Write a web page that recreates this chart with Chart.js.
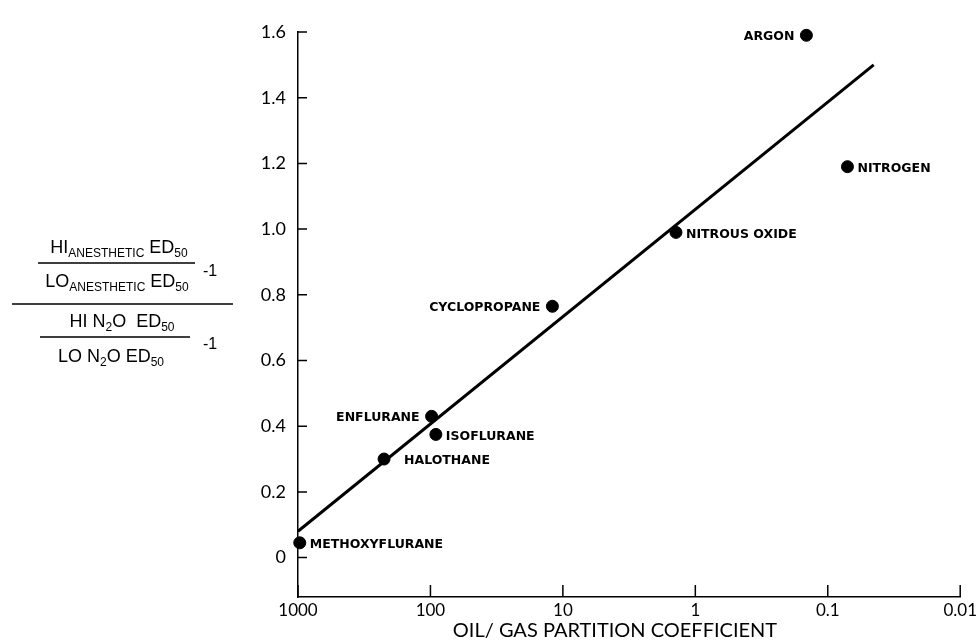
<!DOCTYPE html>
<html>
<head>
<meta charset="utf-8">
<script src="https://cdn.jsdelivr.net/npm/chart.js@4"></script>
<style>
  html, body { margin: 0; padding: 0; background: #fff; }
  #wrap { width: 980px; height: 644px; }
</style>
</head>
<body>
<div id="wrap"><canvas id="myChart" width="980" height="644"></canvas></div>
<script>
// values
const agents = ['ARGON', 'NITROGEN', 'NITROUS OXIDE', 'CYCLOPROPANE', 'ENFLURANE', 'ISOFLURANE', 'HALOTHANE', 'METHOXYFLURANE'];
const oilGas = [0.145, 0.071, 1.4, 12, 98, 91, 224, 970];
const ratio = [1.59, 1.19, 0.99, 0.765, 0.43, 0.375, 0.30, 0.045];

const fitX = [1000, 0.045];
const fitY = [0.08, 1.5];

const xTicks = [1000, 100, 10, 1, 0.1, 0.01];
const xTickLabels = ['1000', '100', '10', '1', '0.1', '0.01'];
const yTicks = [0, 0.2, 0.4, 0.6, 0.8, 1.0, 1.2, 1.4, 1.6];
const yTickLabels = ['0', '0.2', '0.4', '0.6', '0.8', '1.0', '1.2', '1.4', '1.6'];

const xTitle = 'OIL/ GAS PARTITION COEFFICIENT';

// which side of the dot the name goes
const leftSide = ['ARGON', 'CYCLOPROPANE', 'ENFLURANE'];

const points = [];
agents.forEach(function (name, i) {
    points.push({ x: oilGas[i], y: ratio[i] });
});

const fitLine = [];
fitX.forEach(function (x, i) {
    fitLine.push({ x: x, y: fitY[i] });
});

const labelsPlugin = {
    id: 'labelsPlugin',
    afterDatasetsDraw(chart) {
        const ctx = chart.ctx;
        const meta = chart.getDatasetMeta(1);
        ctx.save();
        ctx.fillStyle = '#000';
        ctx.font = 'bold 12.5px "DejaVu Sans"';
        ctx.textBaseline = 'middle';
        meta.data.forEach(function (pt, i) {
            const name = agents[i];
            if (leftSide.indexOf(name) >= 0) {
                ctx.textAlign = 'right';
                ctx.fillText(name, pt.x - 12, pt.y + 1);
            } else {
                ctx.textAlign = 'left';
                ctx.fillText(name, pt.x + (name === 'HALOTHANE' ? 20 : 10), pt.y + 2);
            }
        });

        // inward tick marks
        const xs = chart.scales.x, ys = chart.scales.y;
        ctx.strokeStyle = '#000';
        ctx.lineWidth = 1.5;
        ctx.beginPath();
        yTicks.forEach(function (v) {
            const py = ys.getPixelForValue(v);
            ctx.moveTo(xs.left, py);
            ctx.lineTo(xs.left + 9, py);
        });
        xTicks.forEach(function (v) {
            const px = xs.getPixelForValue(v);
            ctx.moveTo(px, ys.bottom);
            ctx.lineTo(px, ys.bottom - 12);
        });
        ctx.stroke();
        ctx.restore();
    }
};

function drawParts(ctx, parts, cx, y) {
    let w = 0;
    parts.forEach(function (p) {
        ctx.font = p[1] ? '12px "Liberation Sans"' : '18px "Liberation Sans"';
        w += ctx.measureText(p[0]).width;
    });
    let x = cx - w / 2;
    parts.forEach(function (p) {
        ctx.font = p[1] ? '12px "Liberation Sans"' : '18px "Liberation Sans"';
        ctx.fillText(p[0], x, p[1] ? y + 4 : y);
        x += ctx.measureText(p[0]).width;
    });
}

const titlesPlugin = {
    id: 'titlesPlugin',
    afterDraw(chart) {
        const ctx = chart.ctx;
        ctx.save();
        ctx.fillStyle = '#000';
        ctx.strokeStyle = '#000';
        ctx.textBaseline = 'alphabetic';
        ctx.textAlign = 'left';
        drawParts(ctx, [['HI', false], ['ANESTHETIC', true], [' ED', false], ['50', true]], 119, 253);
        drawParts(ctx, [['LO', false], ['ANESTHETIC', true], [' ED', false], ['50', true]], 117, 287);
        drawParts(ctx, [['HI N', false], ['2', true], ['O  ED', false], ['50', true]], 122, 327);
        drawParts(ctx, [['LO N', false], ['2', true], ['O ED', false], ['50', true]], 111, 362);
        ctx.font = '16px "Liberation Sans"';
        ctx.fillText('-1', 203, 276);
        ctx.fillText('-1', 203, 349);
        ctx.lineWidth = 1.5;
        ctx.beginPath();
        ctx.moveTo(38, 263); ctx.lineTo(195, 263);
        ctx.moveTo(12, 304); ctx.lineTo(233, 304);
        ctx.moveTo(40, 337); ctx.lineTo(190, 337);
        ctx.stroke();

        // x axis title
        ctx.font = '20px Lato';
        ctx.textAlign = 'center';
        ctx.textBaseline = 'middle';
        ctx.fillText(xTitle, 615, 631);
        ctx.restore();
    }
};

const ctx = document.getElementById('myChart');

new Chart(ctx, {
    data: {
        datasets: [{
            type: 'line',
            data: fitLine,
            borderColor: '#000',
            borderWidth: 3,
            pointRadius: 0,
            fill: false
        }, {
            type: 'scatter',
            data: points,
            clip: false,
            backgroundColor: '#000',
            borderColor: '#000',
            pointRadius: 6,
            pointHoverRadius: 6
        }]
    },
    options: {
        responsive: false,
        animation: false,
        layout: { padding: { top: 32, right: 18, bottom: 0, left: 0 } },
        plugins: {
            legend: { display: false },
            tooltip: { enabled: false }
        },
        scales: {
            x: {
                type: 'logarithmic',
                reverse: true,
                min: 0.01,
                max: 1000,
                grid: { display: false, drawTicks: false },
                border: { display: true, color: '#000', width: 1.5 },
                afterBuildTicks: function (scale) {
                    scale.ticks = xTicks.map(function (v) { return { value: v }; });
                },
                afterFit: function (scale) { scale.height = 47; },
                ticks: {
                    color: '#000',
                    padding: 3,
                    maxRotation: 0,
                    autoSkip: false,
                    font: { family: 'Lato', size: 17 },
                    callback: function (value) {
                        const i = xTicks.indexOf(value);
                        return i >= 0 ? xTickLabels[i] : '';
                    }
                }
            },
            y: {
                min: -0.12,
                max: 1.6,
                grid: { display: false, drawTicks: false },
                border: { display: true, color: '#000', width: 1.5 },
                afterBuildTicks: function (scale) {
                    scale.ticks = yTicks.map(function (v) { return { value: v }; });
                },
                afterFit: function (scale) { scale.width = 298; },
                ticks: {
                    color: '#000',
                    padding: 12,
                    font: { family: 'Lato', size: 18 },
                    callback: function (value) {
                        const i = yTicks.indexOf(value);
                        return i >= 0 ? yTickLabels[i] : '';
                    }
                }
            }
        }
    },
    plugins: [labelsPlugin, titlesPlugin]
});
</script>
</body>
</html>
